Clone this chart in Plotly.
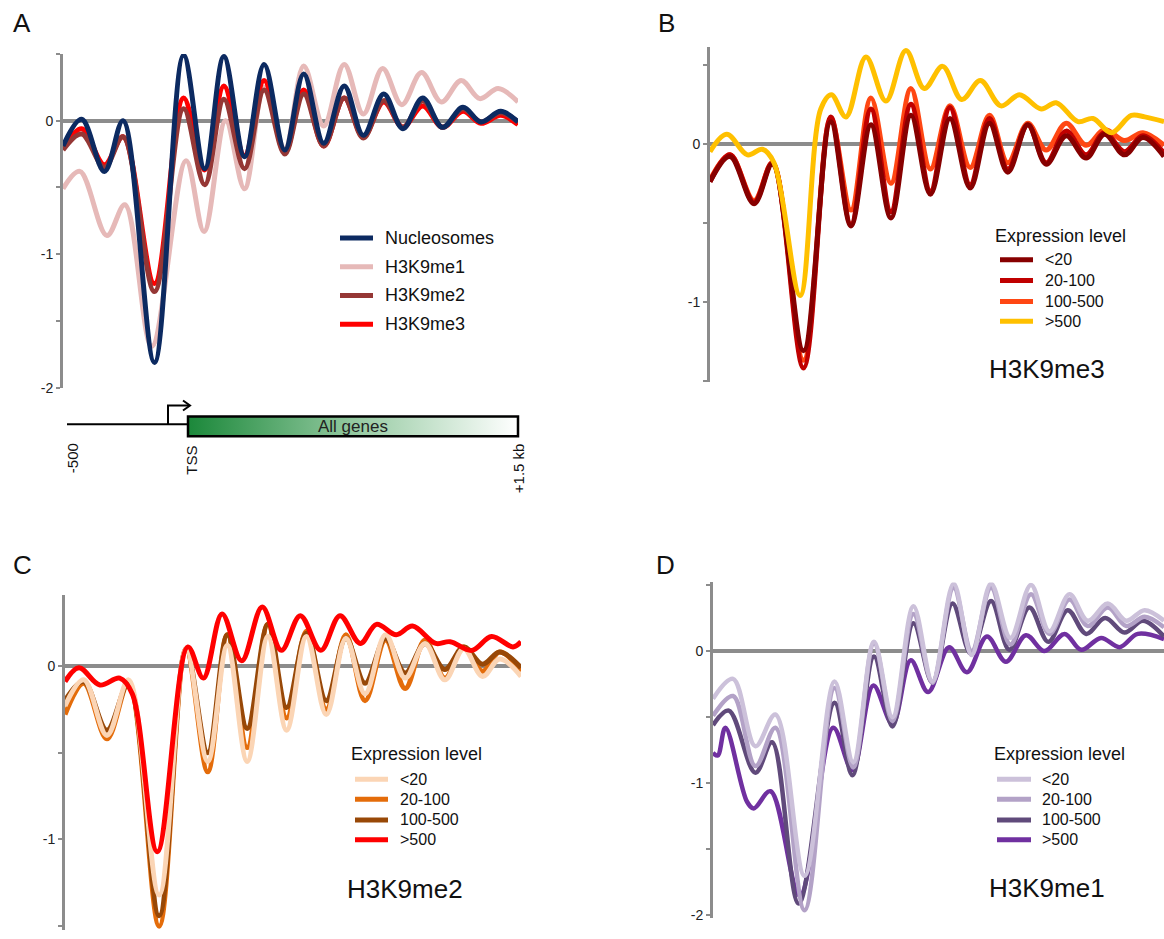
import plotly.graph_objects as go

W, H = 1164, 939
FONT = "Liberation Sans, Arial, sans-serif"

# ---------------- Panel A : all genes ----------------
A_x = [-500, -418, -318, -236, -98, 30, 123, 207, 298, 384, 475, 558, 646, 736, 820, 910, 994, 1081, 1168, 1258, 1337, 1424, 1500]
A_nucleosomes = [-0.19, 0.01, -0.38, 0.0, -1.81, 0.49, -0.36, 0.48, -0.27, 0.42, -0.22, 0.35, -0.17, 0.26, -0.11, 0.20, -0.06, 0.17, -0.05, 0.10, -0.01, 0.07, -0.01]
A_me3 = [-0.21, -0.06, -0.33, -0.12, -1.22, 0.17, -0.37, 0.26, -0.26, 0.30, -0.24, 0.23, -0.19, 0.17, -0.12, 0.14, -0.05, 0.11, -0.05, 0.07, -0.02, 0.04, -0.03]
A_me2 = [-0.22, -0.10, -0.35, -0.12, -1.28, 0.09, -0.48, 0.16, -0.36, 0.23, -0.25, 0.20, -0.19, 0.17, -0.13, 0.15, -0.05, 0.15, -0.05, 0.09, -0.01, 0.06, -0.01]
A_x_me1 = [-500, -426, -307, -228, -110, 41, 120, 215, 298, 384, 475, 558, 646, 736, 820, 905, 989, 1076, 1163, 1250, 1332, 1413, 1500]
A_me1 = [-0.51, -0.38, -0.86, -0.63, -1.69, -0.30, -0.83, 0.0, -0.51, 0.25, -0.21, 0.41, -0.04, 0.42, 0.05, 0.39, 0.12, 0.36, 0.14, 0.30, 0.165, 0.24, 0.14]

# ---------------- Panel B : H3K9me3 by expression ----------------
B_x = [-500, -412, -306, -225, -88, 32, 121, 209, 297, 385, 471, 557, 646, 731, 812, 900, 981, 1069, 1157, 1238, 1326, 1407, 1500]
B_lt20 = [-0.24, -0.08, -0.38, -0.13, -1.31, 0.14, -0.52, 0.12, -0.47, 0.18, -0.32, 0.16, -0.28, 0.13, -0.18, 0.12, -0.13, 0.05, -0.09, 0.06, -0.07, 0.04, -0.08]
B_20_100 = [-0.24, -0.07, -0.37, -0.12, -1.42, 0.17, -0.51, 0.22, -0.43, 0.25, -0.30, 0.23, -0.26, 0.16, -0.16, 0.12, -0.12, 0.08, -0.07, 0.07, -0.05, 0.05, -0.06]
B_100_500 = [-0.23, -0.07, -0.36, -0.12, -1.37, 0.16, -0.42, 0.29, -0.25, 0.35, -0.16, 0.24, -0.15, 0.18, -0.12, 0.13, -0.04, 0.13, -0.01, 0.09, 0.02, 0.07, -0.01]
B_x_gt500 = [-500, -426, -335, -269, -218, -103, -12, 35, 99, 187, 275, 363, 444, 525, 609, 691, 782, 863, 959, 1025, 1121, 1187, 1268, 1356, 1415, 1500]
B_gt500 = [-0.05, 0.06, -0.07, -0.035, -0.12, -0.96, 0.22, 0.31, 0.17, 0.55, 0.27, 0.59, 0.35, 0.49, 0.28, 0.40, 0.24, 0.31, 0.22, 0.26, 0.14, 0.16, 0.07, 0.18, 0.17, 0.14]

# ---------------- Panel C : H3K9me2 by expression ----------------
C_x = [-500, -418, -316, -221, -87, 31, 126, 212, 299, 390, 472, 559, 646, 732, 816, 906, 992, 1079, 1166, 1249, 1331, 1407, 1500]
C_lt20 = [-0.23, -0.08, -0.40, -0.08, -1.32, 0.10, -0.55, 0.12, -0.55, 0.17, -0.37, 0.17, -0.28, 0.16, -0.16, 0.18, -0.07, 0.13, -0.08, 0.10, -0.06, 0.04, -0.06]
C_20_100 = [-0.28, -0.10, -0.42, -0.10, -1.50, 0.10, -0.61, 0.18, -0.47, 0.24, -0.30, 0.20, -0.25, 0.18, -0.20, 0.15, -0.13, 0.15, -0.07, 0.11, -0.03, 0.08, -0.03]
C_100_500 = [-0.20, -0.09, -0.37, -0.10, -1.44, 0.10, -0.50, 0.18, -0.36, 0.24, -0.24, 0.19, -0.20, 0.16, -0.10, 0.16, -0.04, 0.13, -0.02, 0.11, 0.01, 0.08, -0.01]
C_x_gt500 = [-500, -439, -347, -260, -205, -95, 39, 107, 189, 275, 365, 449, 532, 622, 706, 795, 866, 953, 1024, 1126, 1189, 1284, 1371, 1465, 1500]
C_gt500 = [-0.09, -0.01, -0.11, -0.07, -0.16, -1.07, 0.11, -0.07, 0.30, 0.03, 0.34, 0.09, 0.29, 0.09, 0.29, 0.13, 0.24, 0.18, 0.23, 0.13, 0.14, 0.09, 0.17, 0.11, 0.14]

# ---------------- Panel D : H3K9me1 by expression ----------------
D_x = [-500, -411, -312, -223, -94, 39, 122, 214, 296, 389, 473, 567, 647, 733, 819, 910, 992, 1081, 1162, 1251, 1333, 1414, 1500]
D_lt20 = [-0.36, -0.21, -0.72, -0.48, -1.70, -0.23, -0.84, 0.07, -0.50, 0.34, -0.23, 0.51, -0.03, 0.51, 0.10, 0.50, 0.15, 0.43, 0.23, 0.36, 0.23, 0.31, 0.23]
D_20_100 = [-0.49, -0.34, -0.87, -0.58, -1.96, -0.28, -0.88, 0.06, -0.53, 0.28, -0.24, 0.48, 0.0, 0.48, 0.05, 0.43, 0.13, 0.39, 0.19, 0.33, 0.19, 0.26, 0.18]
D_x_100_500 = [-500, -430, -312, -238, -120, 39, 118, 214, 296, 389, 473, 562, 644, 733, 814, 903, 987, 1073, 1155, 1239, 1325, 1407, 1500]
D_100_500 = [-0.56, -0.45, -0.92, -0.69, -1.91, -0.39, -0.94, -0.04, -0.57, 0.21, -0.24, 0.36, -0.02, 0.38, 0.01, 0.33, 0.07, 0.31, 0.13, 0.25, 0.14, 0.23, 0.11]
D_x_gt500 = [-500, -479, -445, -349, -319, -245, -115, 33, 118, 211, 296, 377, 454, 547, 626, 715, 799, 888, 970, 1059, 1133, 1221, 1303, 1384, 1500]
D_gt500 = [-0.77, -0.79, -0.58, -1.14, -1.19, -1.06, -1.85, -0.58, -0.90, -0.26, -0.55, -0.07, -0.31, 0.03, -0.16, 0.11, -0.08, 0.12, 0.0, 0.13, 0.01, 0.10, 0.03, 0.13, 0.09]

EXPR_LEVELS = ["<20", "20-100", "100-500", ">500"]

def px(p):
    return p / W

def py(p):
    return min(1.0, max(0.0, 1 - p / H))

# panel geometry (pixels)
panels = [
    dict(key="", x0=63, x1=518, zero=121.7, unit=134.7, ymin=-2.0, ymax=0.5,
         tv=[-2, -1.5, -1, -0.5, 0, 0.5]),
    dict(key="2", x0=710, x1=1164, zero=145.0, unit=159.3, ymin=-1.51, ymax=0.61,
         tv=[-1.5, -1, -0.5, 0, 0.5]),
    dict(key="3", x0=65, x1=521, zero=671.7, unit=175.0, ymin=-1.52, ymax=0.41,
         tv=[-1.5, -1, -0.5, 0]),
    dict(key="4", x0=713, x1=1164, zero=656.7, unit=133.3, ymin=-2.02, ymax=0.52,
         tv=[-2, -1.5, -1, -0.5, 0, 0.5]),
]

fig = go.Figure()
layout_axes = {}
for p in panels:
    top = p["zero"] - p["ymax"] * p["unit"]
    bot = p["zero"] - p["ymin"] * p["unit"]
    ymin = p["ymin"]
    if bot > H - 1:
        bot = H - 1
        ymin = -(bot - p["zero"]) / p["unit"]
    tt = [("%d" % v) if float(v).is_integer() else "" for v in p["tv"]]
    layout_axes["xaxis" + p["key"]] = dict(
        domain=[px(p["x0"]), px(p["x1"])], range=[-500, 1500], anchor="y" + p["key"],
        visible=False, showgrid=False, zeroline=False, fixedrange=True)
    layout_axes["yaxis" + p["key"]] = dict(
        domain=[py(bot), py(top)], range=[ymin, p["ymax"]], anchor="x" + p["key"],
        showline=True, linecolor="#8c8c8c", linewidth=3, showgrid=False,
        ticks="outside", ticklen=4, tickwidth=2, tickcolor="#8c8c8c",
        tickvals=p["tv"], ticktext=tt, tickfont=dict(size=14, color="#222", family=FONT),
        zeroline=True, zerolinecolor="#8c8c8c", zerolinewidth=4, fixedrange=True)


def add(x, y, color, ax, width=5):
    fig.add_trace(go.Scatter(
        x=x, y=y, mode="lines", line=dict(color=color, width=width, shape="spline", smoothing=1.0),
        xaxis="x" + ax, yaxis="y" + ax, showlegend=False, hoverinfo="skip"))

# Panel A
A_colors = {"Nucleosomes": "#0c2a61", "H3K9me1": "#e6b9b8", "H3K9me2": "#953735", "H3K9me3": "#ff0000"}
add(A_x_me1, A_me1, A_colors["H3K9me1"], "")
add(A_x, A_me3, A_colors["H3K9me3"], "")
add(A_x, A_me2, A_colors["H3K9me2"], "")
add(A_x, A_nucleosomes, A_colors["Nucleosomes"], "")

# Panel B
B_colors = ["#870000", "#c00000", "#ff4713", "#ffc000"]
add(B_x, B_100_500, B_colors[2], "2")
add(B_x, B_20_100, B_colors[1], "2")
add(B_x, B_lt20, B_colors[0], "2")
add(B_x_gt500, B_gt500, B_colors[3], "2")

# Panel C
C_colors = ["#fbd5b5", "#e46c0a", "#984807", "#ff0000"]
add(C_x, C_20_100, C_colors[1], "3")
add(C_x, C_100_500, C_colors[2], "3")
add(C_x, C_lt20, C_colors[0], "3")
add(C_x_gt500, C_gt500, C_colors[3], "3")

# Panel D
D_colors = ["#ccc1da", "#b3a2c7", "#604a7b", "#7030a0"]
add(D_x_gt500, D_gt500, D_colors[3], "4", 4.5)
add(D_x_100_500, D_100_500, D_colors[2], "4", 4.5)
add(D_x, D_20_100, D_colors[1], "4", 4.5)
add(D_x, D_lt20, D_colors[0], "4", 4.5)

# Gene diagram gradient box (own axes)
layout_axes["xaxis5"] = dict(domain=[px(188), px(518)], range=[0, 1], visible=False, anchor="y5", fixedrange=True)
layout_axes["yaxis5"] = dict(domain=[py(440), py(420)], range=[0, 1], visible=False, anchor="x5", fixedrange=True)
fig.add_trace(go.Scatter(
    x=[0, 1, 1, 0, 0], y=[0, 0, 1, 1, 0], mode="lines", fill="toself",
    fillgradient=dict(type="horizontal", colorscale=[[0, "#1b883a"], [0.55, "#9fcfaa"], [1, "#ffffff"]]),
    line=dict(width=0), xaxis="x5", yaxis="y5", showlegend=False, hoverinfo="skip"))

shapes = []
annotations = []

def hline(x0, x1, y, color, width):
    shapes.append(dict(type="line", xref="paper", yref="paper", x0=px(x0), x1=px(x1),
                       y0=py(y), y1=py(y), line=dict(color=color, width=width)))

def text(x, y, s, size, xanchor="left", yanchor="middle", angle=0, color="#111"):
    annotations.append(dict(x=px(x), y=py(y), xref="paper", yref="paper", text=s, showarrow=False,
                            xanchor=xanchor, yanchor=yanchor, textangle=angle,
                            font=dict(family=FONT, size=size, color=color)))

# Legend A
for name, yy in zip(["Nucleosomes", "H3K9me1", "H3K9me2", "H3K9me3"], [240, 269, 298, 327]):
    hline(340, 373, yy, A_colors[name], 5)
    text(383, yy, name, 18)

# Legends B, C, D
def expr_legend(x_title, y_title, lx0, lx1, tx, rows, colors):
    text(x_title, y_title, "Expression level", 18)
    for lab, yy, col in zip(EXPR_LEVELS, rows, colors):
        hline(lx0, lx1, yy, col, 5)
        text(tx, yy, lab, 16)

expr_legend(993, 238, 1000, 1033, 1043, [262, 283, 304, 324], B_colors)
expr_legend(349, 760, 355, 388, 398, [786, 806, 827, 847], C_colors)
expr_legend(992, 760, 997, 1031, 1040, [786, 806, 827, 847], D_colors)

text(987, 372, "H3K9me3", 26)
text(345, 897, "H3K9me2", 26)
text(987, 896, "H3K9me1", 26)

# Panel letters
text(22, 23, "A", 26, xanchor="center")
text(666, 23, "B", 26, xanchor="center")
text(22, 570, "C", 26, xanchor="center")
text(665, 570, "D", 26, xanchor="center")

# Gene diagram
hline(67, 188, 428, "#000", 2)
def path(pts):
    return "M " + " L ".join("%f,%f" % (px(a), py(b)) for a, b in pts)
shapes.append(dict(type="path", xref="paper", yref="paper",
                   path=path([(168, 428), (168, 409), (189, 409)]), line=dict(color="#000", width=2)))
shapes.append(dict(type="path", xref="paper", yref="paper",
                   path=path([(183, 404), (190, 409), (183, 414)]), line=dict(color="#000", width=2)))
shapes.append(dict(type="rect", xref="paper", yref="paper", x0=px(188), x1=px(518),
                   y0=py(440), y1=py(420), line=dict(color="#000", width=2.5), layer="above"))
text(353, 430, "All genes", 17, xanchor="center", color="#222")
text(72, 445, "-500", 15, xanchor="center", yanchor="top", angle=-90)
text(192, 448, "TSS", 15, xanchor="center", yanchor="top", angle=-90)
text(518, 445, "+1.5 kb", 15, xanchor="center", yanchor="top", angle=-90)

fig.update_layout(
    width=W, height=H, margin=dict(l=0, r=0, t=0, b=0),
    paper_bgcolor="white", plot_bgcolor="white", showlegend=False,
    font=dict(family=FONT), shapes=shapes, annotations=annotations, **layout_axes)

fig.write_html("out.html", config={"displayModeBar": False})
